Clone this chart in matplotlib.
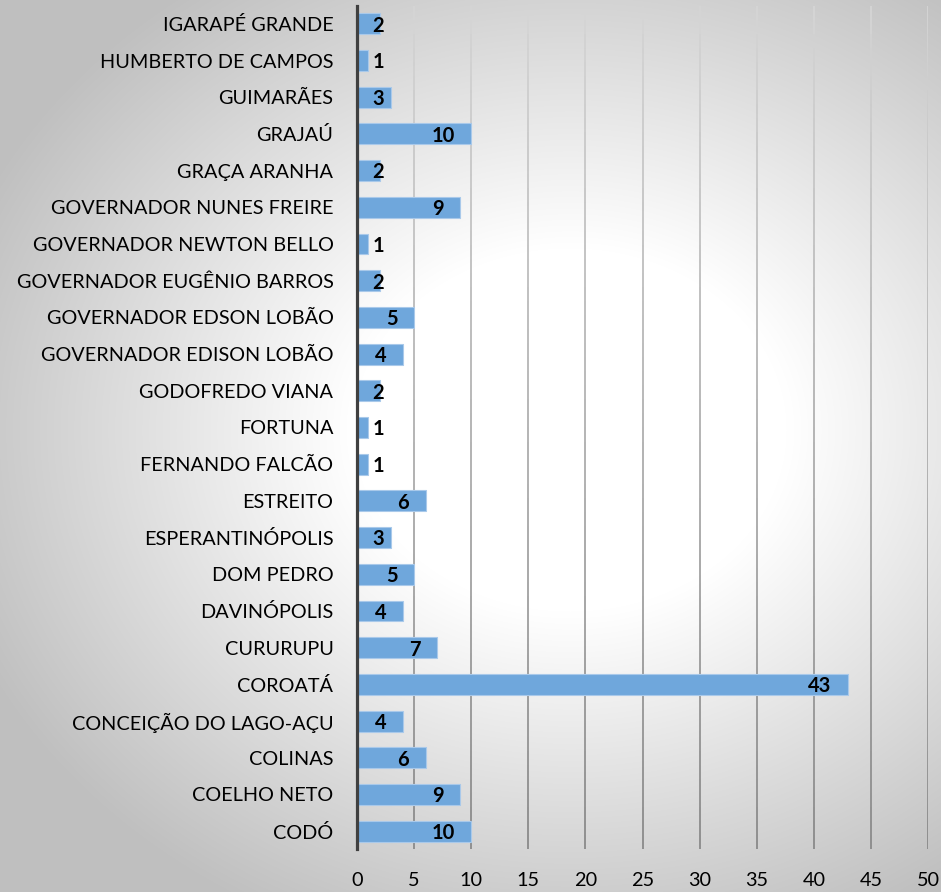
import numpy as np
import matplotlib
matplotlib.use("Agg")
import matplotlib.pyplot as plt
from matplotlib.collections import LineCollection

plt.rcParams['font.family'] = ['Lato', 'DejaVu Sans']

# data, bottom to top
municipios = ["CODÓ", "COELHO NETO", "COLINAS", "CONCEIÇÃO DO LAGO-AÇU", "COROATÁ",
              "CURURUPU", "DAVINÓPOLIS", "DOM PEDRO", "ESPERANTINÓPOLIS", "ESTREITO",
              "FERNANDO FALCÃO", "FORTUNA", "GODOFREDO VIANA", "GOVERNADOR EDISON LOBÃO",
              "GOVERNADOR EDSON LOBÃO", "GOVERNADOR EUGÊNIO BARROS", "GOVERNADOR NEWTON BELLO",
              "GOVERNADOR NUNES FREIRE", "GRAÇA ARANHA", "GRAJAÚ", "GUIMARÃES",
              "HUMBERTO DE CAMPOS", "IGARAPÉ GRANDE"]
valores = [10, 9, 6, 4, 43, 7, 4, 5, 3, 6, 1, 1, 2, 4, 5, 2, 1, 9, 2, 10, 3, 1, 2]
xticks = [0, 5, 10, 15, 20, 25, 30, 35, 40, 45, 50]

W, H = 941, 892
fig = plt.figure(figsize=(W / 100, H / 100), dpi=100)

# soft radial gradient behind everything
bg = fig.add_axes([0, 0, 1, 1], zorder=-1)
yy, xx = np.mgrid[0:H, 0:W]
d = np.sqrt(((xx - 570) / 620.0) ** 2 + ((yy - 430) / 520.0) ** 2)
g = 1.0 - 0.25 * np.clip((d - 0.35) / 0.7, 0, 1)
bg.imshow(np.dstack([g, g, g]), aspect='auto', extent=(0, 1, 0, 1))
bg.set_axis_off()

ax = fig.add_axes([357 / W, 1 - 849.5 / H, (928 - 357) / W, (849.5 - 5.5) / H])
ax.set_facecolor('none')

y = np.arange(len(municipios))
ax.barh(y, valores, height=0.57, color='#6fa7dc', edgecolor='#a9c9ea',
        linewidth=0.8, zorder=3)

ax.set_xlim(0, 50)
ax.set_ylim(-0.5, len(municipios) - 0.5)

# gridlines fading towards the top
segs, cols = [], []
n = 60
ys = np.linspace(-0.5, len(municipios) - 0.5, n + 1)
for xt in xticks[1:]:
    for i in range(n):
        segs.append([(xt, ys[i]), (xt, ys[i + 1])])
        c = 0.54 + 0.30 * i / n
        cols.append((c, c, c))
ax.add_collection(LineCollection(segs, colors=cols, linewidths=1.3, zorder=1))

for v, yi in zip(valores, y):
    off = 1.93 if v < 10 else 2.45
    cx = max(v - off, 1.84)
    ax.text(cx, yi - 0.05, str(v), ha='center', va='center', fontsize=14.5,
            fontweight='bold', color='black', zorder=4)

ax.set_yticks(y)
ax.set_yticklabels(municipios, fontsize=14.3)
ax.set_xticks(xticks)
ax.set_xticklabels([str(t) for t in xticks], fontsize=14.3)
ax.tick_params(axis='both', length=0)
ax.tick_params(axis='x', pad=16.5)
ax.tick_params(axis='y', pad=17)

for s in ['top', 'right', 'bottom']:
    ax.spines[s].set_visible(False)
ax.spines['left'].set_color('#404040')
ax.spines['left'].set_linewidth(2.3)
ax.spines['left'].set_zorder(5)

fig.savefig('out.png', dpi=100)
